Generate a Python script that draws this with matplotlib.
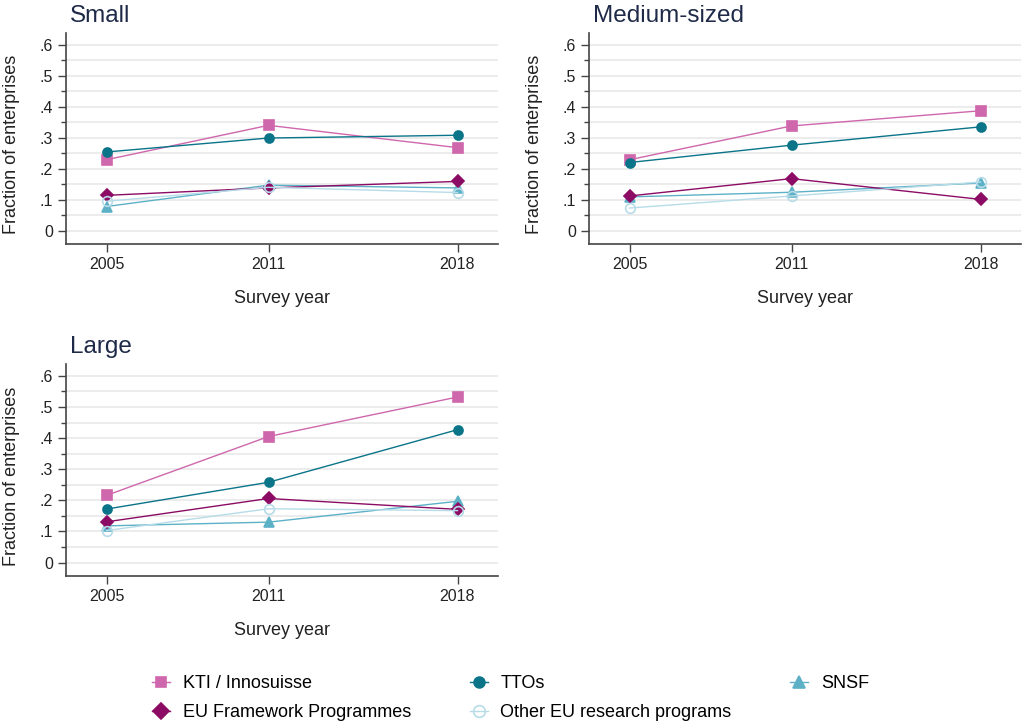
import matplotlib
matplotlib.use('Agg')
import matplotlib.pyplot as plt

plt.rcParams['font.family'] = ['Liberation Sans', 'DejaVu Sans']

years = [2005, 2011, 2018]
panels = ["Small", "Medium-sized", "Large"]
series = ["KTI / Innosuisse", "TTOs", "SNSF", "EU Framework Programmes", "Other EU research programs"]

# values per panel, per series
kti = {"Small": [0.229, 0.340, 0.268], "Medium-sized": [0.229, 0.338, 0.387], "Large": [0.216, 0.405, 0.532]}
tto = {"Small": [0.254, 0.299, 0.308], "Medium-sized": [0.220, 0.276, 0.335], "Large": [0.172, 0.258, 0.427]}
snsf = {"Small": [0.078, 0.147, 0.138], "Medium-sized": [0.109, 0.124, 0.154], "Large": [0.118, 0.130, 0.197]}
eufp = {"Small": [0.114, 0.138, 0.159], "Medium-sized": [0.112, 0.168, 0.101], "Large": [0.131, 0.206, 0.171]}
other = {"Small": [0.095, 0.140, 0.123], "Medium-sized": [0.073, 0.112, 0.157], "Large": [0.103, 0.173, 0.167]}

data = [kti, tto, snsf, eufp, other]
colors = ["#cf67ad", "#0a7489", "#5db1c7", "#8c0b65", "#b7dce8"]
markers = ["s", "o", "^", "D", "o"]
msizes = [6.5, 6.5, 7, 6.5, 7]
filled = [True, True, True, True, False]

yticks = [0, 0.1, 0.2, 0.3, 0.4, 0.5, 0.6]
ytick_labels = ["0", ".1", ".2", ".3", ".4", ".5", ".6"]

fig = plt.figure(figsize=(10.22, 7.24), dpi=100)
W, H = 1022, 724
boxes = {
    "Small": (66, 33, 498, 244),
    "Medium-sized": (589, 33, 1021, 244),
    "Large": (66, 364, 498, 576),
}

handles = []
for p in panels:
    x0, y0, x1, y1 = boxes[p]
    ax = fig.add_axes([x0 / W, 1 - y1 / H, (x1 - x0) / W, (y1 - y0) / H])
    for i, s in enumerate(series):
        mfc = colors[i] if filled[i] else "none"
        ln, = ax.plot(years, data[i][p], color=colors[i], lw=1.0, marker=markers[i],
                      ms=msizes[i], mfc=mfc, mec=colors[i], mew=1.2, label=s, zorder=3 + i)
        if p == "Small":
            handles.append(ln)
    ax.set_xlim(2003.5, 2019.5)
    ax.set_ylim(-0.043, 0.638)
    ax.set_xticks(years)
    ax.set_yticks(yticks)
    ax.set_yticklabels(ytick_labels)
    ax.set_yticks([0.05, 0.15, 0.25, 0.35, 0.45, 0.55], minor=True)
    for yv in [0.0, 0.05, 0.1, 0.15, 0.2, 0.25, 0.3, 0.35, 0.4, 0.45, 0.5, 0.55, 0.6]:
        ax.axhline(yv, color="#eaeaea", lw=1.3, zorder=1)
    for side in ["top", "right"]:
        ax.spines[side].set_visible(False)
    for side in ["left", "bottom"]:
        ax.spines[side].set_color("#444444")
        ax.spines[side].set_linewidth(1.2)
    ax.tick_params(axis="both", which="major", length=6, width=1, color="#444444",
                   labelsize=11.5, labelcolor="#222222")
    ax.tick_params(axis="y", which="minor", length=3.5, width=1, color="#444444")
    ax.set_xlabel("Survey year", fontsize=13, color="#222222", labelpad=13)
    ax.set_ylabel("Fraction of enterprises", fontsize=13, color="#222222", labelpad=14)
    ax.yaxis.label.set_y(0.47)
    ax.text(0.01, 1.03, p, transform=ax.transAxes, fontsize=17.5, color="#1e2a48",
            ha="left", va="bottom")

order = [0, 3, 1, 4, 2]
fig.legend([handles[i] for i in order], [series[i] for i in order],
           loc="upper left", bbox_to_anchor=(152 / W, 1 - 675 / H), ncol=3,
           frameon=False, fontsize=13, handlelength=1.0, handletextpad=0.7,
           columnspacing=3.25, labelspacing=0.68, borderpad=0, borderaxespad=0,
           markerscale=1.2)

fig.savefig("out.png", dpi=100)
